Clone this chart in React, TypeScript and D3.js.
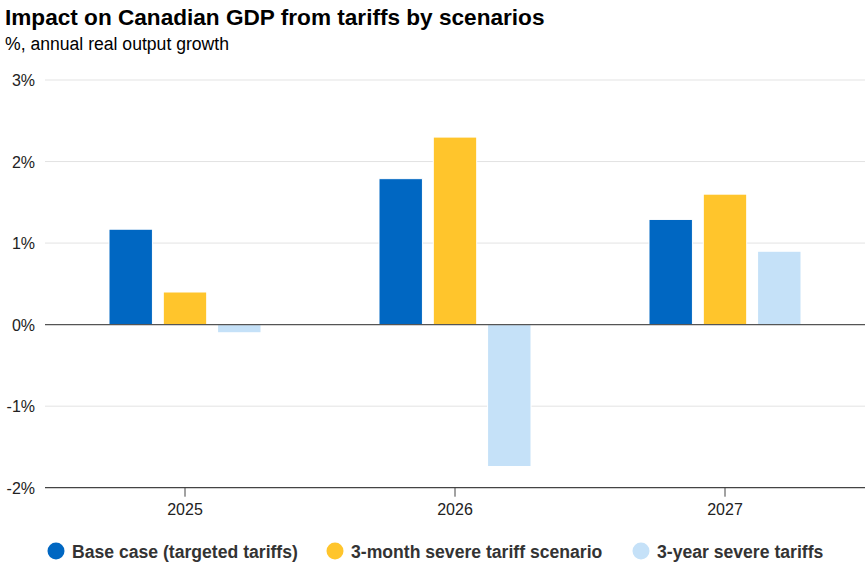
import React, { useEffect } from "react";
import * as d3 from "d3";

const categories = ["2025", "2026", "2027"];
const seriesNames = [
  "Base case (targeted tariffs)",
  "3-month severe tariff scenario",
  "3-year severe tariffs",
];
const baseCase = [1.17, 1.79, 1.29];
const threeMonth = [0.4, 2.3, 1.6];
const threeYear = [-0.1, -1.74, 0.9];
const yTicks = [3, 2, 1, 0, -1, -2];
const colors = ["#0067C2", "#FFC52C", "#C5E1F8"];

const W = 865;
const H = 564;
const FONT = "'Liberation Sans', Arial, sans-serif";

export default function App() {
  useEffect(() => {
    document.body.style.margin = "0";
  }, []);

  const series = [baseCase, threeMonth, threeYear];
  const y = d3.scaleLinear().domain([-2, 3]).range([487.7, 80]);
  const x = d3.scaleBand().domain(categories).range([50, 860]).paddingInner(0).paddingOuter(0);
  const groupW = 152;
  const xInner = d3
    .scaleBand()
    .domain(seriesNames)
    .range([0, groupW])
    .paddingInner(0.2)
    .paddingOuter(0);

  const legendX = [56, 335, 641];

  return (
    <svg width={W} height={H} style={{ display: "block" }} fontFamily={FONT}>
      <rect width={W} height={H} fill="#fff" />
      <text x={5} y={25} fontSize={22.6} fontWeight="bold" fill="#000">
        Impact on Canadian GDP from tariffs by scenarios
      </text>
      <text x={5} y={50} fontSize={17.6} fill="#000">
        %, annual real output growth
      </text>

      {yTicks.map((t) => (
        <g key={t}>
          {t !== 0 && t !== -2 && (
            <line x1={45} x2={865} y1={y(t)} y2={y(t)} stroke="#e3e3e3" strokeWidth={1} />
          )}
          <text x={35} y={y(t) + 6} fontSize={16} textAnchor="end" fill="#222">
            {t + "%"}
          </text>
        </g>
      ))}

      {categories.map((c, ci) => {
        const gx = (x(c) as number) + x.bandwidth() / 2 - groupW / 2;
        return (
          <g key={c}>
            {series.map((s, si) => {
              const v = s[ci];
              const bx = gx + (xInner(seriesNames[si]) as number);
              const y0 = y(Math.max(0, v));
              const y1 = y(Math.min(0, v));
              return (
                <rect
                  key={si}
                  x={bx}
                  y={y0}
                  width={xInner.bandwidth()}
                  height={y1 - y0}
                  fill={colors[si]}
                  stroke="#fff"
                  strokeWidth={1}
                />
              );
            })}
          </g>
        );
      })}

      <line x1={45} x2={865} y1={y(0)} y2={y(0)} stroke="#555" strokeWidth={1.3} />
      <line x1={45} x2={865} y1={y(-2)} y2={y(-2)} stroke="#444" strokeWidth={1.3} />
      {categories.map((c) => {
        const cx = (x(c) as number) + x.bandwidth() / 2;
        return (
          <g key={c}>
            <line x1={cx} x2={cx} y1={y(-2)} y2={y(-2) + 9} stroke="#444" strokeWidth={1} />
            <text x={cx} y={515} fontSize={16} textAnchor="middle" fill="#222">
              {c}
            </text>
          </g>
        );
      })}

      {seriesNames.map((n, i) => (
        <g key={n}>
          <circle cx={legendX[i]} cy={551} r={8.5} fill={colors[i]} />
          <text x={legendX[i] + 16} y={557.5} fontSize={17.6} fontWeight="bold" fill="#333">
            {n}
          </text>
        </g>
      ))}
    </svg>
  );
}
